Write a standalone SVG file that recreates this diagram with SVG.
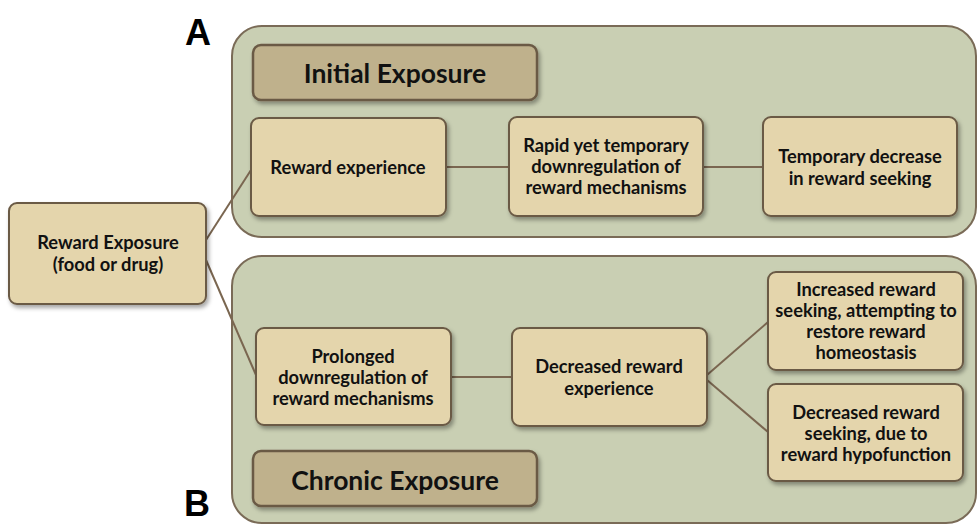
<svg xmlns="http://www.w3.org/2000/svg" width="978" height="525" viewBox="0 0 978 525">
<defs>
<filter id="sh" x="-10%" y="-10%" width="130%" height="140%">
<feDropShadow dx="2" dy="3" stdDeviation="2" flood-color="#000" flood-opacity="0.35"/>
</filter>
<style>
.panel{fill:#c9cfb3;stroke:#7a6b57;stroke-width:2}
.node{fill:#e4d5ac;stroke:#6b5a45;stroke-width:2;filter:url(#sh)}
.head{fill:#bfb18c;stroke:#6b5a45;stroke-width:2.5;filter:url(#sh)}
.t{font-family:Lato,"Open Sans",sans-serif;font-weight:700;font-size:18.3px;fill:#111;text-anchor:middle}
.h{font-family:Lato,"Open Sans",sans-serif;font-weight:700;font-size:26.5px;fill:#111;text-anchor:middle}
.lab{font-family:"Liberation Sans",Arial,sans-serif;font-weight:700;font-size:36px;fill:#000;text-anchor:middle}
.c{stroke:#7a6650;stroke-width:2;fill:none}
</style>
</defs>
<rect width="978" height="525" fill="#fff"/>
<g id="panelA"><rect class="panel" x="232" y="26" width="744" height="211" rx="30"/></g>
<g id="panelB"><rect class="panel" x="232" y="256" width="744" height="267" rx="30"/></g>
<text class="lab" x="198" y="45">A</text>
<text class="lab" x="197" y="516">B</text>
<g id="connectors">
<line class="c" x1="206" y1="240" x2="251" y2="170"/>
<line class="c" x1="206" y1="260" x2="256" y2="375"/>
<line class="c" x1="446" y1="167" x2="509" y2="167"/>
<line class="c" x1="703" y1="167" x2="763" y2="167"/>
<line class="c" x1="451" y1="377" x2="512" y2="377"/>
<line class="c" x1="707" y1="375" x2="768" y2="322"/>
<line class="c" x1="707" y1="380" x2="768" y2="432"/>
</g>
<g id="initial"><rect class="head" x="253" y="45" width="284" height="55" rx="8"/><text class="h" x="395" y="83">Initial Exposure</text></g>
<g id="chronic"><rect class="head" x="253" y="451" width="284" height="55" rx="8"/><text class="h" x="395" y="490">Chronic Exposure</text></g>
<g id="rewardExposure"><rect class="node" x="9" y="203" width="197" height="101" rx="8"/><text class="t" x="108" y="249">Reward Exposure</text><text class="t" x="108" y="271">(food or drug)</text></g>
<g id="rewardExperience"><rect class="node" x="251" y="118" width="195" height="98" rx="8"/><text class="t" x="348" y="174">Reward experience</text></g>
<g id="rapid"><rect class="node" x="509" y="117" width="194" height="99" rx="8"/><text class="t" x="606" y="152">Rapid yet temporary</text><text class="t" x="606" y="173">downregulation of</text><text class="t" x="606" y="194">reward mechanisms</text></g>
<g id="tempDecrease"><rect class="node" x="763" y="117" width="194" height="99" rx="8"/><text class="t" x="860" y="163">Temporary decrease</text><text class="t" x="860" y="185">in reward seeking</text></g>
<g id="prolonged"><rect class="node" x="256" y="328" width="195" height="97" rx="8"/><text class="t" x="353" y="363">Prolonged</text><text class="t" x="353" y="384">downregulation of</text><text class="t" x="353" y="405">reward mechanisms</text></g>
<g id="decExperience"><rect class="node" x="512" y="328" width="195" height="98" rx="8"/><text class="t" x="609" y="373">Decreased reward</text><text class="t" x="609" y="395">experience</text></g>
<g id="incSeeking"><rect class="node" x="768" y="272" width="195" height="98" rx="8"/><text class="t" x="866" y="296">Increased reward</text><text class="t" x="866" y="317">seeking, attempting to</text><text class="t" x="866" y="338">restore reward</text><text class="t" x="866" y="359">homeostasis</text></g>
<g id="decSeeking"><rect class="node" x="768" y="384" width="195" height="97" rx="8"/><text class="t" x="866" y="419">Decreased reward</text><text class="t" x="866" y="440">seeking, due to</text><text class="t" x="866" y="461">reward hypofunction</text></g>
</svg>
